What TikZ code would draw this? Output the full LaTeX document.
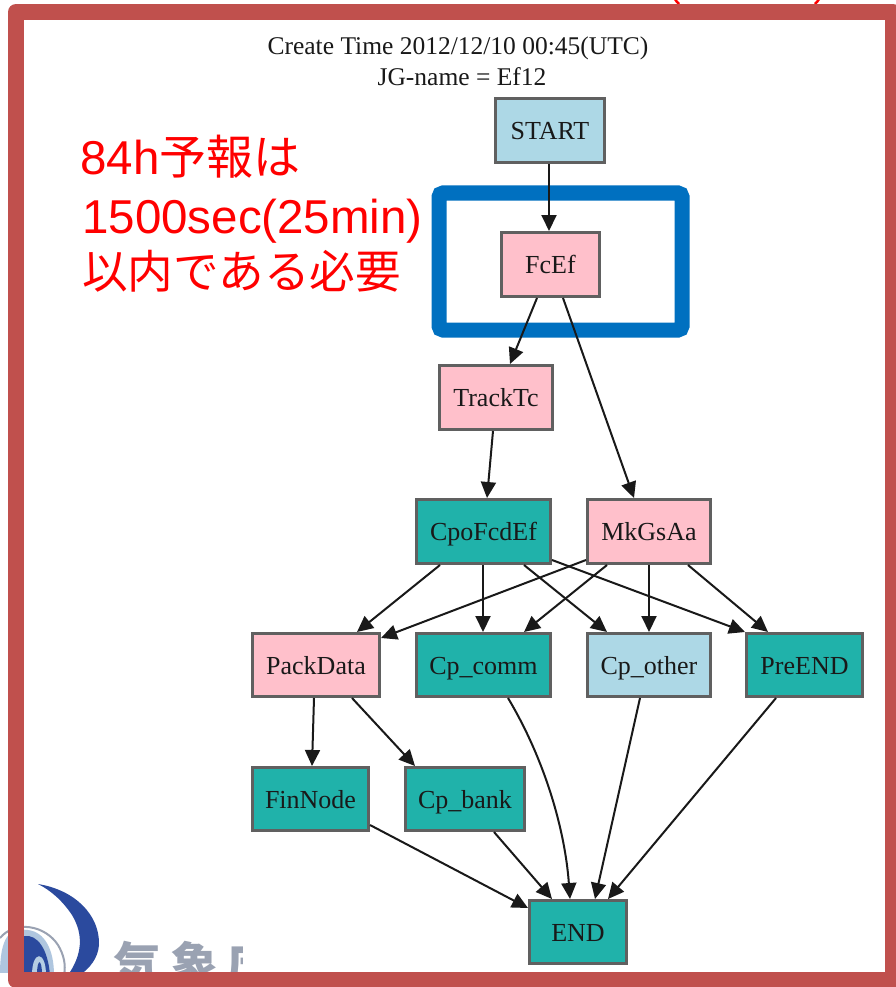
\documentclass[tikz,border=0pt]{standalone}
\usepackage{fontspec}
\setmainfont{Liberation Serif}
\newfontfamily\redfont{Liberation Sans}
\newfontfamily\cjkfont{Noto Sans CJK JP}
\usetikzlibrary{arrows.meta}
\definecolor{teal1}{HTML}{20B2AA}
\definecolor{pink1}{HTML}{FFC0CB}
\definecolor{blue1}{HTML}{ADD8E6}
\definecolor{frame1}{HTML}{C0504D}
\definecolor{hl1}{HTML}{0070C0}
\definecolor{logoblue}{HTML}{2B4A9E}
\definecolor{logogray}{HTML}{9AA2B2}
\definecolor{edgegray}{HTML}{606060}
\tikzset{
  job/.style={draw=edgegray,line width=2.6pt,inner sep=0pt,text height=20pt,text depth=2pt,text=black!90,font=\fontsize{26}{26}\selectfont},
  tealjob/.style={job,fill=teal1},
  pinkjob/.style={job,fill=pink1},
  bluejob/.style={job,fill=blue1},
  link/.style={line width=2pt,draw=black!90,-{Triangle[length=16pt,width=15pt]}},
  redtxt/.style={text=red,anchor=base west,inner sep=0pt,font=\fontsize{47.5}{47.5}\selectfont},
  titletxt/.style={inner sep=0pt,text=black!90,font=\fontsize{25.5}{25.5}\selectfont}
}
\newcommand{\jobnode}[8]{\node[#1,minimum width=#5pt-#3pt-2.6pt,minimum height=#6pt-#4pt-2.6pt] (#2) at ({(#3+#5)/2},{(#4+#6)/2}) {#7#8};}
\begin{document}
\begin{tikzpicture}[x=1pt,y=-1pt]
\useasboundingbox (0,0) rectangle (895,987);
\fill[white] (0,0) rectangle (895,987);
% logo
\begin{scope}
\clip (0,880) rectangle (242,972);
\fill[logoblue] (38,884) .. controls (75,890) and (100,915) .. (99,945) .. controls (98,958) and (90,968) .. (80,975) -- (68,975) .. controls (82,955) and (84,935) .. (72,915) .. controls (62,900) and (50,890) .. (38,884) -- cycle;
\draw[logogray,line width=2pt] (0,938) .. controls (15,920) and (45,925) .. (58,945) .. controls (64,955) and (66,965) .. (64,975);
\fill[blue1!60!logoblue!60] (0,975) .. controls (0,935) and (10,928) .. (28,930) .. controls (45,932) and (54,950) .. (54,975) -- cycle;
\fill[logoblue] (24,975) -- (24,936) .. controls (38,934) and (48,950) .. (50,975) -- cycle;
\fill[blue1!70!logoblue!60] (32,975) .. controls (32,950) and (46,950) .. (46,975) -- cycle;
\fill[logoblue] (37,975) .. controls (37,958) and (42,958) .. (42,975) -- cycle;
\node[anchor=base west,inner sep=0pt,text=logogray,font=\cjkfont\bfseries\fontsize{48}{48}\selectfont] (logotext) at (113,982) {気\kern9pt 象\kern9pt 庁};
\end{scope}
% clipped red text at the top
\draw[red,line width=2.5pt] (675,-1) .. controls (676,1) and (677,2) .. (679,4);
\draw[red,line width=2.5pt] (819,-1) .. controls (818,1) and (817,2) .. (815,4);
% frame
\draw[frame1,line width=16pt,line join=round] (16,12) rectangle (893,980);
% title
\node[titletxt] (title1) at (458,48) {Create Time 2012/12/10 00:45(UTC)};
\node[titletxt] (title2) at (462,77) {JG-name = Ef12};
% red notes
\node[redtxt] (note1) at (80,175) {\redfont 84h\cjkfont\fontsize{47}{47}\selectfont 予報は};
\node[redtxt] (note2) at (82,233) {\redfont 1500sec(25min)};
\node[redtxt] (note3) at (82,288) {\cjkfont\fontsize{45.6}{45.6}\selectfont 以内である必要};
% highlight
\draw[hl1,line width=15pt,rounded corners=4pt] (439,193) rectangle (682,330);
% nodes
\jobnode{bluejob}{start}{494}{97}{606}{164}{START}{}
\jobnode{pinkjob}{fcef}{500}{231}{601}{298}{FcEf}{}
\jobnode{pinkjob}{track}{438}{364}{554}{431}{TrackTc}{}
\jobnode{tealjob}{cpo}{415}{498}{552}{565}{CpoFcdEf}{}
\jobnode{pinkjob}{mk}{586}{498}{712}{565}{MkGsAa}{}
\jobnode{pinkjob}{pack}{251}{632}{381}{698}{PackData}{}
\jobnode{tealjob}{comm}{415}{632}{552}{698}{Cp\_comm}{}
\jobnode{bluejob}{other}{586}{632}{712}{698}{Cp\_other}{}
\jobnode{tealjob}{pre}{745}{632}{864}{698}{PreEND}{}
\jobnode{tealjob}{fin}{251}{766}{370}{832}{FinNode}{}
\jobnode{tealjob}{bank}{404}{766}{526}{832}{Cp\_bank}{}
\jobnode{tealjob}{endn}{528}{899}{628}{965}{END}{}
% connectors
\draw[link] ([xshift=55pt]start.south west) -- ([xshift=49pt]fcef.north west);
\draw[link] ([xshift=37pt]fcef.south west) -- ([xshift=72pt]track.north west);
\draw[link] ([xshift=63pt]fcef.south west) -- ([xshift=48pt]mk.north west);
\draw[link] ([xshift=55pt]track.south west) -- ([xshift=72pt]cpo.north west);
\draw[link] ([xshift=25pt]cpo.south west) -- ([xshift=106pt]pack.north west);
\draw[link] ([xshift=68pt]cpo.south west) -- ([xshift=68pt]comm.north west);
\draw[link] ([xshift=109pt]cpo.south west) -- ([xshift=21pt]other.north west);
\draw[link] ([yshift=5pt]cpo.south east) -- (pre.north west);
\draw[link] ([yshift=5pt]mk.south west) -- ([yshift=-6pt]pack.north east);
\draw[link] ([xshift=21pt]mk.south west) -- ([xshift=109pt]comm.north west);
\draw[link] ([xshift=63pt]mk.south west) -- ([xshift=63pt]other.north west);
\draw[link] ([xshift=102pt]mk.south west) -- ([xshift=23pt]pre.north west);
\draw[link] ([xshift=63pt]pack.south west) -- ([xshift=61pt]fin.north west);
\draw[link] ([xshift=101pt]pack.south west) -- ([xshift=11pt]bank.north west);
\draw[link] ([xshift=93pt]comm.south west) .. controls (545,760) and (565,830) .. ([xshift=42pt]endn.north west);
\draw[link] ([xshift=54pt]other.south west) -- ([xshift=67pt]endn.north west);
\draw[link] ([xshift=31pt]pre.south west) -- ([xshift=80pt]endn.north west);
\draw[link] ([yshift=7pt]fin.south east) -- ([yshift=-9pt]endn.north west);
\draw[link] ([xshift=90pt]bank.south west) -- ([xshift=24pt]endn.north west);
\end{tikzpicture}
\end{document}
